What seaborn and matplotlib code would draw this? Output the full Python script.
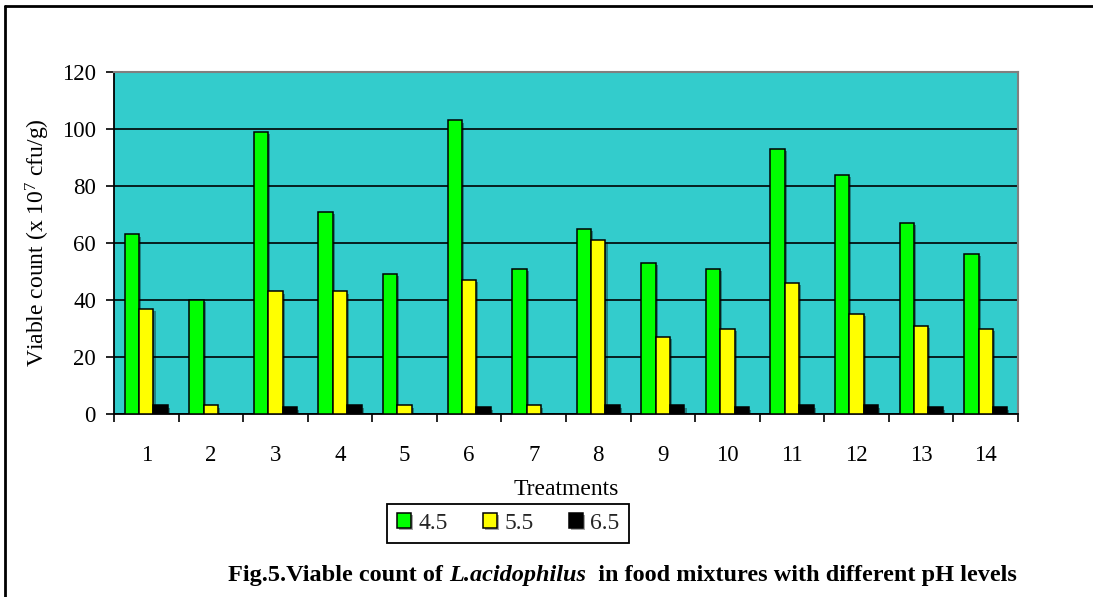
import matplotlib
matplotlib.use("Agg")
import matplotlib.pyplot as plt
import matplotlib.patheffects as pe
from matplotlib.lines import Line2D
from matplotlib.ticker import FixedLocator, NullFormatter
import numpy as np
import pandas as pd
import seaborn as sns

# Viable counts (x 10^7 cfu/g) for each treatment at three pH levels
treatments = [str(i) for i in range(1, 15)]
ph_levels = ["4.5", "5.5", "6.5"]
count_ph45 = [63, 40, 99, 71, 49, 103, 51, 65, 53, 51, 93, 84, 67, 56]
count_ph55 = [37, 3, 43, 43, 3, 47, 3, 61, 27, 30, 46, 35, 31, 30]
count_ph65 = [3, 0, 2.3, 3, 0, 2.3, 0, 3, 3, 2.3, 3, 3, 2.3, 2.3]
y_ticks = [0, 20, 40, 60, 80, 100, 120]

df = pd.DataFrame({
    "Treatment": treatments * 3,
    "pH": np.repeat(ph_levels, len(treatments)),
    "Count": count_ph45 + count_ph55 + count_ph65,
})

sns.set_theme(style="white")
plt.rcParams["font.family"] = ["Liberation Serif", "DejaVu Serif"]
plt.rcParams["mathtext.fontset"] = "custom"
plt.rcParams["mathtext.rm"] = "Liberation Serif"
plt.rcParams["mathtext.it"] = "Liberation Serif:italic"
plt.rcParams["mathtext.bf"] = "Liberation Serif:bold"

W, H = 1093, 597
fig = plt.figure(figsize=(W / 100, H / 100), dpi=100)
fig.patch.set_facecolor("white")

# plot area in pixel coordinates
left, right, top, bottom = 114, 1018, 72, 414
ax = fig.add_axes([left / W, 1 - bottom / H, (right - left) / W, (bottom - top) / H])
ax.set_facecolor("#33CCCC")

palette = {"4.5": "#00FF00", "5.5": "#FFFF00", "6.5": "#000000"}
sns.barplot(data=df, x="Treatment", y="Count", hue="pH", order=treatments,
            hue_order=ph_levels, palette=palette, width=0.67, gap=0,
            edgecolor="black", linewidth=1.1, saturation=1, ax=ax, zorder=3)

for bar in ax.patches:
    bar.set_path_effects([pe.SimplePatchShadow(offset=(1.5, -1.5), shadow_rgbFace="black", alpha=0.35),
                          pe.Normal()])

ax.set_ylim(0, 120)
ax.set_xlim(-0.5, len(treatments) - 0.5)
ax.set_yticks(y_ticks)
ax.set_yticklabels([str(v) for v in y_ticks])
ax.yaxis.grid(True, color="black", linewidth=1.2, zorder=1)
ax.set_axisbelow(True)

# x ticks: marks at group boundaries, labels at group centers
ax.xaxis.set_major_locator(FixedLocator(np.arange(-0.5, len(treatments), 1.0)))
ax.xaxis.set_major_formatter(NullFormatter())
ax.xaxis.set_minor_locator(FixedLocator(np.arange(len(treatments))))
ax.set_xticklabels(treatments, minor=True)
ax.tick_params(axis="x", which="major", direction="out", length=6, width=1.2, color="black", bottom=True)
ax.tick_params(axis="x", which="minor", length=0, pad=22, labelsize=16.5, colors="black")
ax.tick_params(axis="y", which="major", direction="out", length=6, width=1.2, color="black",
               left=True, pad=7, labelsize=16.5, labelcolor="black")

for side in ["left", "bottom"]:
    ax.spines[side].set_color("black")
    ax.spines[side].set_linewidth(1.3)
for side in ["top", "right"]:
    ax.spines[side].set_color("#808080")
    ax.spines[side].set_linewidth(1.5)

ax.set_xlabel("Treatments", fontsize=17, color="black")
ax.xaxis.set_label_coords(0.5, -0.19)
ax.set_ylabel(r"Viable count (x 10$^{7}$ cfu/g)", fontsize=17, color="black")
ax.yaxis.set_label_coords(-0.069, 0.5)

handles, labels = ax.get_legend_handles_labels()
ax.legend_.remove()
leg = fig.legend(handles, labels, loc="center", bbox_to_anchor=(508 / W, 1 - 523.5 / H),
                 ncol=3, frameon=True, fancybox=False, edgecolor="black", facecolor="white",
                 fontsize=17, handlelength=0.6, handleheight=0.6, handletextpad=0.3,
                 columnspacing=1.5, borderpad=0.4, framealpha=1)
leg.get_frame().set_linewidth(1.3)

# caption: bold, with the species name in bold italic
renderer = fig.canvas.get_renderer()
y_cap = 1 - 581 / H
parts = [("Fig.5.Viable count of ", "normal"), ("L.acidophilus", "italic"),
         ("  in food mixtures with different pH levels", "normal")]
texts = []
for s, style in parts:
    texts.append(fig.text(0, y_cap, s, fontsize=17.5, fontweight="bold", style=style,
                          va="baseline", ha="left", color="black"))
widths = [t.get_window_extent(renderer).width for t in texts]
x = 1017 - sum(widths)
for t, w in zip(texts, widths):
    t.set_x(x / W)
    x += w

# page frame lines
fig.add_artist(Line2D([5 / W, 5 / W], [0, 1 - 6 / H], color="black", linewidth=2))
fig.add_artist(Line2D([5 / W, 1], [1 - 6 / H, 1 - 6 / H], color="black", linewidth=2))

fig.savefig("out.png", dpi=100, facecolor="white")
